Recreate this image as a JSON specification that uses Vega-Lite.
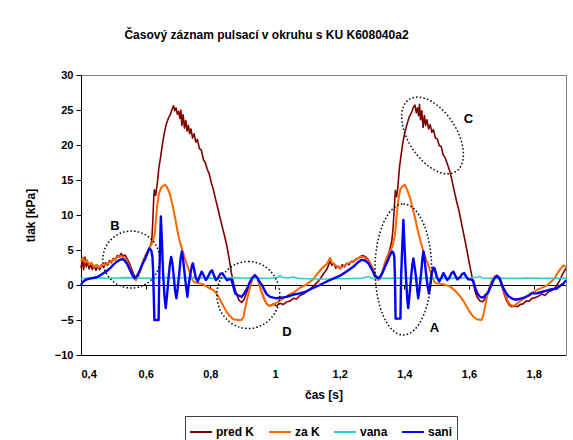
{
"$schema": "https://vega.github.io/schema/vega-lite/v6.json",
"width": 485, "height": 280,
"autosize": {"type": "none"},
"padding": {"left": 81, "top": 75, "right": 7, "bottom": 85},
"background": "white",
"config": {"view": {"stroke": null}, "font": "Liberation Sans",
 "axis": {"labelFont": "Liberation Sans", "labelFontWeight": "bold", "labelFontSize": 11, "labelColor": "black", "titleFont": "Liberation Sans", "titleFontWeight": "bold", "titleFontSize": 12, "titleColor": "black", "domainColor": "black", "tickColor": "black", "grid": false}},
"title": {"text": "Časový záznam pulsací v okruhu s KU K608040a2", "fontSize": 12, "fontWeight": "bold", "font": "Liberation Sans", "anchor": "middle", "frame": "group", "dx": -57, "offset": 27, "color": "black"},
"datasets": {
"predK": [
{"t":0.400,"v":2.4},{"t":0.404,"v":3.6},{"t":0.408,"v":2.2},{"t":0.412,"v":4.0},{"t":0.416,"v":2.6},{"t":0.420,"v":3.3},{"t":0.425,"v":2.3},{"t":0.430,"v":3.0},{"t":0.435,"v":2.2},{"t":0.440,"v":2.8},{"t":0.446,"v":2.1},{"t":0.452,"v":2.7},{"t":0.458,"v":2.2},{"t":0.464,"v":2.9},{"t":0.470,"v":2.5},{"t":0.476,"v":3.2},{"t":0.482,"v":2.8},{"t":0.488,"v":3.5},{"t":0.494,"v":3.2},{"t":0.500,"v":3.8},{"t":0.506,"v":3.6},{"t":0.512,"v":4.2},{"t":0.518,"v":4.0},{"t":0.524,"v":4.5},{"t":0.530,"v":4.1},{"t":0.536,"v":4.3},{"t":0.542,"v":3.8},{"t":0.548,"v":3.3},{"t":0.555,"v":2.5},{"t":0.562,"v":1.6},{"t":0.570,"v":1.0},{"t":0.577,"v":1.3},{"t":0.584,"v":2.2},{"t":0.592,"v":3.3},{"t":0.600,"v":4.3},{"t":0.608,"v":5.0},{"t":0.614,"v":5.5},{"t":0.619,"v":6.4},{"t":0.622,"v":9.0},{"t":0.625,"v":12.5},{"t":0.627,"v":13.6},{"t":0.631,"v":12.8},{"t":0.636,"v":14.5},{"t":0.641,"v":16.8},{"t":0.646,"v":18.2},{"t":0.652,"v":20.2},{"t":0.658,"v":21.8},{"t":0.664,"v":23.0},{"t":0.670,"v":23.8},{"t":0.676,"v":24.3},{"t":0.681,"v":25.0},{"t":0.686,"v":25.6},{"t":0.690,"v":24.9},{"t":0.694,"v":25.3},{"t":0.698,"v":24.4},{"t":0.702,"v":24.8},{"t":0.706,"v":23.8},{"t":0.709,"v":25.0},{"t":0.712,"v":22.8},{"t":0.716,"v":24.3},{"t":0.720,"v":22.4},{"t":0.724,"v":23.5},{"t":0.728,"v":22.0},{"t":0.732,"v":22.8},{"t":0.736,"v":21.6},{"t":0.740,"v":22.3},{"t":0.745,"v":21.0},{"t":0.750,"v":21.6},{"t":0.755,"v":20.4},{"t":0.760,"v":20.8},{"t":0.766,"v":19.5},{"t":0.772,"v":19.3},{"t":0.778,"v":18.0},{"t":0.784,"v":17.5},{"t":0.790,"v":16.6},{"t":0.797,"v":15.8},{"t":0.803,"v":14.6},{"t":0.809,"v":13.7},{"t":0.816,"v":12.3},{"t":0.823,"v":11.0},{"t":0.830,"v":9.6},{"t":0.837,"v":8.3},{"t":0.844,"v":7.0},{"t":0.851,"v":5.6},{"t":0.858,"v":3.8},{"t":0.865,"v":1.8},{"t":0.872,"v":0.2},{"t":0.880,"v":-1.2},{"t":0.889,"v":-2.2},{"t":0.897,"v":-2.5},{"t":0.905,"v":-2.0},{"t":0.913,"v":-1.0},{"t":0.922,"v":0.3},{"t":0.930,"v":1.1},{"t":0.938,"v":1.4},{"t":0.946,"v":0.9},{"t":0.953,"v":-0.2},{"t":0.960,"v":-1.2},{"t":0.968,"v":-2.2},{"t":0.976,"v":-2.8},{"t":0.985,"v":-3.0},{"t":0.995,"v":-2.7},{"t":1.005,"v":-3.0},{"t":1.015,"v":-2.6},{"t":1.025,"v":-2.8},{"t":1.036,"v":-2.4},{"t":1.046,"v":-2.3},{"t":1.057,"v":-1.9},{"t":1.067,"v":-2.0},{"t":1.077,"v":-1.5},{"t":1.088,"v":-1.3},{"t":1.098,"v":-0.9},{"t":1.108,"v":-0.6},{"t":1.118,"v":-0.2},{"t":1.129,"v":0.3},{"t":1.140,"v":0.9},{"t":1.150,"v":1.6},{"t":1.160,"v":2.2},{"t":1.165,"v":2.8},{"t":1.170,"v":3.4},{"t":1.176,"v":2.8},{"t":1.182,"v":3.1},{"t":1.188,"v":2.4},{"t":1.195,"v":2.7},{"t":1.201,"v":2.3},{"t":1.208,"v":2.9},{"t":1.215,"v":2.6},{"t":1.222,"v":3.1},{"t":1.229,"v":2.9},{"t":1.236,"v":3.4},{"t":1.242,"v":3.3},{"t":1.250,"v":3.7},{"t":1.258,"v":3.8},{"t":1.265,"v":4.1},{"t":1.273,"v":4.2},{"t":1.281,"v":4.0},{"t":1.289,"v":3.6},{"t":1.296,"v":3.0},{"t":1.303,"v":2.2},{"t":1.311,"v":1.4},{"t":1.318,"v":1.0},{"t":1.325,"v":1.2},{"t":1.332,"v":1.9},{"t":1.340,"v":3.0},{"t":1.347,"v":4.0},{"t":1.354,"v":4.9},{"t":1.361,"v":6.2},{"t":1.365,"v":8.0},{"t":1.369,"v":11.0},{"t":1.372,"v":13.5},{"t":1.376,"v":12.6},{"t":1.380,"v":14.0},{"t":1.385,"v":16.8},{"t":1.390,"v":18.6},{"t":1.396,"v":20.5},{"t":1.402,"v":21.9},{"t":1.409,"v":23.1},{"t":1.416,"v":24.1},{"t":1.423,"v":24.7},{"t":1.428,"v":25.4},{"t":1.433,"v":25.7},{"t":1.437,"v":24.6},{"t":1.441,"v":25.3},{"t":1.444,"v":24.2},{"t":1.447,"v":25.8},{"t":1.450,"v":23.6},{"t":1.454,"v":24.9},{"t":1.458,"v":22.5},{"t":1.462,"v":24.2},{"t":1.466,"v":22.8},{"t":1.470,"v":23.6},{"t":1.475,"v":22.3},{"t":1.480,"v":22.9},{"t":1.485,"v":21.8},{"t":1.490,"v":22.2},{"t":1.496,"v":21.0},{"t":1.502,"v":20.9},{"t":1.508,"v":19.9},{"t":1.514,"v":19.8},{"t":1.520,"v":18.6},{"t":1.526,"v":18.2},{"t":1.533,"v":17.3},{"t":1.541,"v":16.2},{"t":1.548,"v":14.8},{"t":1.555,"v":13.3},{"t":1.562,"v":11.9},{"t":1.569,"v":10.6},{"t":1.576,"v":9.0},{"t":1.583,"v":7.4},{"t":1.590,"v":5.8},{"t":1.597,"v":4.1},{"t":1.604,"v":2.4},{"t":1.611,"v":0.8},{"t":1.618,"v":-0.8},{"t":1.626,"v":-1.8},{"t":1.634,"v":-2.3},{"t":1.642,"v":-2.4},{"t":1.650,"v":-2.0},{"t":1.658,"v":-1.2},{"t":1.666,"v":-0.1},{"t":1.674,"v":0.8},{"t":1.681,"v":1.3},{"t":1.688,"v":1.3},{"t":1.695,"v":0.7},{"t":1.702,"v":-0.3},{"t":1.709,"v":-1.3},{"t":1.717,"v":-2.3},{"t":1.725,"v":-2.9},{"t":1.733,"v":-3.1},{"t":1.742,"v":-3.0},{"t":1.750,"v":-3.1},{"t":1.758,"v":-2.8},{"t":1.767,"v":-2.7},{"t":1.776,"v":-2.3},{"t":1.786,"v":-2.3},{"t":1.795,"v":-1.9},{"t":1.805,"v":-1.8},{"t":1.815,"v":-1.6},{"t":1.825,"v":-1.3},{"t":1.835,"v":-1.5},{"t":1.845,"v":-1.0},{"t":1.855,"v":-0.8},{"t":1.865,"v":-0.5},{"t":1.872,"v":0.0},{"t":1.880,"v":0.6},{"t":1.888,"v":1.4},{"t":1.895,"v":2.0},{"t":1.900,"v":2.4}
],
"zaK": [
{"t":0.400,"v":3.4},{"t":0.406,"v":3.9},{"t":0.412,"v":3.2},{"t":0.418,"v":3.6},{"t":0.425,"v":2.9},{"t":0.432,"v":3.2},{"t":0.440,"v":2.6},{"t":0.448,"v":2.9},{"t":0.456,"v":2.5},{"t":0.464,"v":2.8},{"t":0.472,"v":2.8},{"t":0.480,"v":3.0},{"t":0.490,"v":3.3},{"t":0.500,"v":3.6},{"t":0.510,"v":3.9},{"t":0.520,"v":4.1},{"t":0.530,"v":4.0},{"t":0.540,"v":3.6},{"t":0.548,"v":2.9},{"t":0.556,"v":1.8},{"t":0.564,"v":0.9},{"t":0.570,"v":0.7},{"t":0.577,"v":1.2},{"t":0.585,"v":2.3},{"t":0.593,"v":3.6},{"t":0.602,"v":4.4},{"t":0.611,"v":5.2},{"t":0.620,"v":6.0},{"t":0.628,"v":7.2},{"t":0.632,"v":9.5},{"t":0.636,"v":11.5},{"t":0.641,"v":13.0},{"t":0.648,"v":13.9},{"t":0.655,"v":14.2},{"t":0.660,"v":14.3},{"t":0.666,"v":14.0},{"t":0.675,"v":13.0},{"t":0.683,"v":11.4},{"t":0.691,"v":9.6},{"t":0.698,"v":7.8},{"t":0.705,"v":6.3},{"t":0.712,"v":5.2},{"t":0.720,"v":4.0},{"t":0.728,"v":2.9},{"t":0.736,"v":1.8},{"t":0.744,"v":0.8},{"t":0.750,"v":0.4},{"t":0.760,"v":0.3},{"t":0.778,"v":0.1},{"t":0.795,"v":-0.4},{"t":0.809,"v":-0.7},{"t":0.820,"v":-1.3},{"t":0.830,"v":-2.1},{"t":0.840,"v":-3.0},{"t":0.850,"v":-3.8},{"t":0.860,"v":-4.4},{"t":0.871,"v":-4.9},{"t":0.885,"v":-5.0},{"t":0.897,"v":-5.0},{"t":0.903,"v":-4.5},{"t":0.908,"v":-3.2},{"t":0.915,"v":-1.8},{"t":0.923,"v":-0.3},{"t":0.930,"v":0.8},{"t":0.938,"v":1.4},{"t":0.946,"v":0.9},{"t":0.953,"v":-0.2},{"t":0.961,"v":-1.3},{"t":0.969,"v":-2.2},{"t":0.977,"v":-2.8},{"t":0.985,"v":-3.0},{"t":0.995,"v":-2.8},{"t":1.005,"v":-2.5},{"t":1.016,"v":-2.2},{"t":1.030,"v":-1.8},{"t":1.046,"v":-1.3},{"t":1.057,"v":-1.1},{"t":1.077,"v":-0.4},{"t":1.098,"v":0.1},{"t":1.118,"v":0.8},{"t":1.129,"v":1.5},{"t":1.140,"v":2.1},{"t":1.150,"v":2.6},{"t":1.160,"v":3.0},{"t":1.166,"v":3.5},{"t":1.170,"v":3.9},{"t":1.176,"v":3.2},{"t":1.183,"v":3.0},{"t":1.192,"v":2.6},{"t":1.201,"v":2.4},{"t":1.212,"v":2.7},{"t":1.222,"v":3.0},{"t":1.232,"v":3.2},{"t":1.242,"v":3.4},{"t":1.255,"v":3.8},{"t":1.265,"v":4.0},{"t":1.275,"v":4.0},{"t":1.285,"v":3.6},{"t":1.294,"v":3.2},{"t":1.303,"v":2.3},{"t":1.311,"v":1.3},{"t":1.318,"v":0.7},{"t":1.324,"v":0.8},{"t":1.332,"v":1.8},{"t":1.340,"v":3.2},{"t":1.348,"v":4.2},{"t":1.356,"v":4.8},{"t":1.364,"v":5.6},{"t":1.371,"v":7.2},{"t":1.376,"v":9.8},{"t":1.381,"v":12.0},{"t":1.387,"v":13.6},{"t":1.394,"v":14.1},{"t":1.402,"v":14.3},{"t":1.410,"v":13.4},{"t":1.418,"v":12.4},{"t":1.426,"v":10.9},{"t":1.433,"v":9.6},{"t":1.441,"v":7.9},{"t":1.449,"v":6.4},{"t":1.457,"v":5.1},{"t":1.464,"v":4.1},{"t":1.472,"v":3.1},{"t":1.480,"v":2.0},{"t":1.487,"v":1.0},{"t":1.495,"v":0.3},{"t":1.505,"v":0.2},{"t":1.520,"v":0.1},{"t":1.541,"v":-0.2},{"t":1.557,"v":-0.8},{"t":1.572,"v":-1.6},{"t":1.583,"v":-2.3},{"t":1.593,"v":-3.1},{"t":1.603,"v":-3.9},{"t":1.613,"v":-4.5},{"t":1.625,"v":-4.9},{"t":1.639,"v":-5.0},{"t":1.645,"v":-4.2},{"t":1.650,"v":-3.0},{"t":1.656,"v":-1.6},{"t":1.662,"v":-0.5},{"t":1.669,"v":0.5},{"t":1.677,"v":1.1},{"t":1.686,"v":1.4},{"t":1.695,"v":1.0},{"t":1.703,"v":-0.1},{"t":1.711,"v":-1.2},{"t":1.719,"v":-2.2},{"t":1.727,"v":-2.8},{"t":1.737,"v":-3.0},{"t":1.748,"v":-2.7},{"t":1.758,"v":-2.3},{"t":1.768,"v":-2.0},{"t":1.780,"v":-1.6},{"t":1.790,"v":-1.2},{"t":1.800,"v":-1.0},{"t":1.815,"v":-0.6},{"t":1.830,"v":-0.3},{"t":1.840,"v":-0.1},{"t":1.855,"v":0.5},{"t":1.865,"v":1.0},{"t":1.875,"v":1.8},{"t":1.885,"v":2.4},{"t":1.892,"v":2.8},{"t":1.900,"v":2.6}
],
"vana": [
{"t":0.400,"v":0.9},{"t":0.420,"v":1.0},{"t":0.450,"v":1.05},{"t":0.480,"v":0.95},{"t":0.510,"v":1.0},{"t":0.540,"v":1.05},{"t":0.570,"v":1.0},{"t":0.600,"v":0.95},{"t":0.630,"v":1.0},{"t":0.660,"v":1.05},{"t":0.690,"v":1.0},{"t":0.720,"v":1.0},{"t":0.750,"v":1.05},{"t":0.780,"v":1.0},{"t":0.810,"v":0.95},{"t":0.840,"v":1.0},{"t":0.870,"v":1.05},{"t":0.900,"v":1.0},{"t":0.930,"v":1.0},{"t":0.960,"v":0.95},{"t":0.990,"v":1.0},{"t":1.010,"v":1.1},{"t":1.016,"v":1.35},{"t":1.022,"v":1.1},{"t":1.040,"v":1.0},{"t":1.057,"v":1.15},{"t":1.070,"v":0.95},{"t":1.100,"v":0.9},{"t":1.130,"v":0.85},{"t":1.160,"v":0.85},{"t":1.190,"v":0.9},{"t":1.220,"v":0.9},{"t":1.250,"v":0.95},{"t":1.270,"v":0.95},{"t":1.288,"v":1.2},{"t":1.300,"v":0.95},{"t":1.330,"v":0.95},{"t":1.360,"v":0.95},{"t":1.390,"v":1.0},{"t":1.420,"v":0.95},{"t":1.450,"v":0.95},{"t":1.480,"v":1.0},{"t":1.510,"v":0.95},{"t":1.540,"v":0.95},{"t":1.570,"v":1.0},{"t":1.600,"v":1.0},{"t":1.628,"v":1.1},{"t":1.634,"v":1.25},{"t":1.640,"v":1.0},{"t":1.670,"v":0.95},{"t":1.700,"v":0.95},{"t":1.730,"v":0.95},{"t":1.760,"v":0.95},{"t":1.790,"v":1.0},{"t":1.820,"v":0.95},{"t":1.850,"v":0.95},{"t":1.880,"v":0.95},{"t":1.900,"v":0.95}
],
"sani": [
{"t":0.400,"v":0.0},{"t":0.405,"v":0.4},{"t":0.410,"v":0.6},{"t":0.418,"v":0.8},{"t":0.428,"v":0.9},{"t":0.438,"v":1.0},{"t":0.449,"v":1.1},{"t":0.460,"v":1.4},{"t":0.470,"v":1.7},{"t":0.480,"v":2.0},{"t":0.490,"v":2.4},{"t":0.500,"v":2.9},{"t":0.510,"v":3.3},{"t":0.520,"v":3.6},{"t":0.527,"v":3.7},{"t":0.535,"v":3.5},{"t":0.543,"v":3.0},{"t":0.550,"v":2.3},{"t":0.557,"v":1.6},{"t":0.563,"v":1.1},{"t":0.567,"v":1.0},{"t":0.572,"v":1.2},{"t":0.578,"v":1.7},{"t":0.584,"v":2.3},{"t":0.590,"v":3.0},{"t":0.598,"v":3.7},{"t":0.605,"v":4.5},{"t":0.611,"v":5.2},{"t":0.617,"v":5.0},{"t":0.621,"v":4.0},{"t":0.623,"v":2.0},{"t":0.625,"v":-1.5},{"t":0.627,"v":-5.0},{"t":0.640,"v":-5.0},{"t":0.642,"v":1.0},{"t":0.645,"v":6.5},{"t":0.647,"v":9.8},{"t":0.650,"v":6.5},{"t":0.654,"v":1.5},{"t":0.658,"v":-1.5},{"t":0.662,"v":-3.3},{"t":0.666,"v":-1.5},{"t":0.671,"v":1.2},{"t":0.675,"v":3.0},{"t":0.679,"v":4.0},{"t":0.683,"v":3.0},{"t":0.687,"v":1.2},{"t":0.691,"v":-0.8},{"t":0.695,"v":-1.9},{"t":0.699,"v":-0.5},{"t":0.704,"v":1.7},{"t":0.708,"v":3.8},{"t":0.712,"v":4.8},{"t":0.716,"v":3.6},{"t":0.720,"v":1.8},{"t":0.725,"v":-0.2},{"t":0.729,"v":-1.7},{"t":0.733,"v":0.0},{"t":0.738,"v":1.5},{"t":0.743,"v":2.8},{"t":0.746,"v":3.1},{"t":0.750,"v":2.2},{"t":0.755,"v":1.0},{"t":0.761,"v":0.5},{"t":0.767,"v":1.2},{"t":0.773,"v":1.9},{"t":0.779,"v":1.4},{"t":0.786,"v":0.7},{"t":0.792,"v":1.1},{"t":0.799,"v":1.8},{"t":0.805,"v":2.1},{"t":0.811,"v":1.4},{"t":0.817,"v":0.7},{"t":0.824,"v":1.0},{"t":0.831,"v":1.6},{"t":0.837,"v":1.7},{"t":0.844,"v":1.2},{"t":0.851,"v":0.7},{"t":0.858,"v":0.8},{"t":0.865,"v":0.8},{"t":0.871,"v":-0.2},{"t":0.877,"v":-1.2},{"t":0.887,"v":-1.5},{"t":0.897,"v":-1.7},{"t":0.905,"v":-1.2},{"t":0.913,"v":-0.6},{"t":0.920,"v":0.2},{"t":0.929,"v":1.0},{"t":0.938,"v":1.4},{"t":0.946,"v":1.0},{"t":0.953,"v":0.4},{"t":0.960,"v":0.0},{"t":0.967,"v":-0.7},{"t":0.974,"v":-1.3},{"t":0.985,"v":-1.7},{"t":1.005,"v":-1.9},{"t":1.020,"v":-1.8},{"t":1.036,"v":-1.7},{"t":1.055,"v":-1.4},{"t":1.077,"v":-1.2},{"t":1.098,"v":-0.9},{"t":1.118,"v":-0.4},{"t":1.139,"v":0.0},{"t":1.160,"v":0.5},{"t":1.180,"v":0.9},{"t":1.200,"v":1.3},{"t":1.220,"v":1.9},{"t":1.242,"v":2.6},{"t":1.258,"v":3.3},{"t":1.268,"v":3.6},{"t":1.278,"v":3.5},{"t":1.289,"v":3.1},{"t":1.300,"v":2.2},{"t":1.309,"v":1.3},{"t":1.318,"v":1.0},{"t":1.325,"v":1.1},{"t":1.333,"v":1.8},{"t":1.341,"v":2.7},{"t":1.348,"v":3.4},{"t":1.356,"v":4.3},{"t":1.362,"v":4.8},{"t":1.366,"v":4.6},{"t":1.369,"v":4.0},{"t":1.371,"v":1.0},{"t":1.373,"v":-4.8},{"t":1.388,"v":-4.8},{"t":1.390,"v":1.2},{"t":1.394,"v":6.0},{"t":1.397,"v":9.3},{"t":1.401,"v":5.0},{"t":1.405,"v":1.2},{"t":1.409,"v":-2.0},{"t":1.412,"v":-3.3},{"t":1.416,"v":-1.5},{"t":1.421,"v":1.2},{"t":1.425,"v":3.0},{"t":1.428,"v":3.8},{"t":1.432,"v":2.5},{"t":1.436,"v":1.2},{"t":1.440,"v":-0.8},{"t":1.443,"v":-1.9},{"t":1.447,"v":-0.5},{"t":1.452,"v":1.7},{"t":1.456,"v":3.8},{"t":1.459,"v":4.8},{"t":1.463,"v":3.5},{"t":1.467,"v":1.7},{"t":1.472,"v":-0.2},{"t":1.476,"v":-1.2},{"t":1.480,"v":0.0},{"t":1.485,"v":1.7},{"t":1.490,"v":2.5},{"t":1.494,"v":2.3},{"t":1.500,"v":1.2},{"t":1.508,"v":0.5},{"t":1.514,"v":1.0},{"t":1.521,"v":1.7},{"t":1.527,"v":1.2},{"t":1.533,"v":0.7},{"t":1.540,"v":1.1},{"t":1.546,"v":1.7},{"t":1.552,"v":1.9},{"t":1.558,"v":1.3},{"t":1.564,"v":0.8},{"t":1.572,"v":1.1},{"t":1.579,"v":1.6},{"t":1.585,"v":1.7},{"t":1.591,"v":1.2},{"t":1.598,"v":0.8},{"t":1.606,"v":0.8},{"t":1.613,"v":0.6},{"t":1.619,"v":-0.4},{"t":1.626,"v":-1.2},{"t":1.634,"v":-1.7},{"t":1.644,"v":-1.8},{"t":1.652,"v":-1.4},{"t":1.660,"v":-1.0},{"t":1.670,"v":0.1},{"t":1.678,"v":0.9},{"t":1.686,"v":1.3},{"t":1.694,"v":1.0},{"t":1.700,"v":0.3},{"t":1.706,"v":-0.4},{"t":1.714,"v":-1.1},{"t":1.722,"v":-1.6},{"t":1.732,"v":-1.9},{"t":1.743,"v":-2.1},{"t":1.755,"v":-2.0},{"t":1.770,"v":-1.8},{"t":1.785,"v":-1.5},{"t":1.794,"v":-1.2},{"t":1.810,"v":-1.2},{"t":1.825,"v":-1.0},{"t":1.840,"v":-0.8},{"t":1.855,"v":-0.6},{"t":1.871,"v":-0.5},{"t":1.882,"v":-0.1},{"t":1.892,"v":0.2},{"t":1.900,"v":0.7}
],
"labels": [
{"t":0.505,"v":8.4,"label":"B"},{"t":1.037,"v":-6.7,"label":"D"},{"t":1.598,"v":23.7,"label":"C"},{"t":1.493,"v":-6.2,"label":"A"}
]
},
"layer": [
{"data": {"name": "predK"}, "mark": {"type": "line", "strokeWidth": 1.6, "strokeJoin": "round"},
 "encoding": {
  "x": {"field": "t", "type": "quantitative", "scale": {"domain": [0.4, 1.9], "nice": false, "zero": false},
        "axis": {"orient": "bottom", "values": [0.4,0.6,0.8,1,1.2,1.4,1.6,1.8], "labelExpr": "replace(format(datum.value, '~g'), '.', ',')", "ticks": false, "tickSize": 0, "labelPadding": 13, "title": "čas [s]", "titlePadding": 10, "domain": true}},
  "y": {"field": "v", "type": "quantitative", "scale": {"domain": [-10, 30], "nice": false, "zero": false},
        "axis": {"orient": "left", "values": [-10,-5,0,5,10,15,20,25,30], "ticks": true, "tickSize": 5, "labelPadding": 3, "title": "tlak [kPa]", "titlePadding": 17, "domain": true}},
  "color": {"datum": "pred K", "type": "nominal",
     "scale": {"domain": ["pred K", "za K", "vana", "sani"], "range": ["#800000", "#FF6600", "#33CCCC", "#0000FF"]},
     "legend": {"orient": "none", "legendX": 104, "legendY": 341, "direction": "horizontal", "title": null, "symbolType": "stroke", "symbolSize": 484, "symbolStrokeWidth": 2, "labelFontSize": 12, "labelFontWeight": "bold", "labelFont": "Liberation Sans", "labelColor": "black", "strokeColor": "#404040", "padding": 4, "columnPadding": 10, "labelOffset": 3, "fillColor": "white"}}
 }},
{"data": {"name": "zaK"}, "mark": {"type": "line", "strokeWidth": 2, "strokeJoin": "round"},
 "encoding": {"x": {"field": "t", "type": "quantitative", "axis": null}, "y": {"field": "v", "type": "quantitative", "axis": null}, "color": {"datum": "za K", "type": "nominal"}}},
{"data": {"name": "vana"}, "mark": {"type": "line", "strokeWidth": 1.6, "strokeJoin": "round"},
 "encoding": {"x": {"field": "t", "type": "quantitative", "axis": null}, "y": {"field": "v", "type": "quantitative", "axis": null}, "color": {"datum": "vana", "type": "nominal"}}},
{"data": {"name": "sani"}, "mark": {"type": "line", "strokeWidth": 2.4, "strokeJoin": "round"},
 "encoding": {"x": {"field": "t", "type": "quantitative",
   "axis": {"orient": "bottom", "offset": -70, "values": [0.4,0.6,0.8,1,1.2,1.4,1.6,1.8], "labels": false, "title": null, "ticks": true, "tickSize": 4, "domain": true}},
  "y": {"field": "v", "type": "quantitative",
   "axis": {"orient": "left", "offset": -485, "values": [-10,-5,0,5,10,15,20,25,30], "labels": false, "title": null, "ticks": true, "tickSize": 0.5, "tickColor": "#808080", "domain": true, "domainColor": "#808080"}},
  "color": {"datum": "sani", "type": "nominal"}}},
{"data": {"values": [{"t": 0.5556, "v": 3.64}]}, "mark": {"type": "point", "shape": "circle", "size": 3249, "filled": false, "stroke": "black", "strokeWidth": 1.5, "strokeDash": [1.5, 2.2], "opacity": 1},
 "encoding": {"x": {"field": "t", "type": "quantitative", "axis": null}, "y": {"field": "v", "type": "quantitative", "axis": null}}},
{"data": {"values": [{"t": 0.9175, "v": -1.43}]}, "mark": {"type": "point", "shape": "M0,-1C0.5192,-1,0.94,-0.5523,0.94,0C0.94,0.5523,0.5192,1,0,1C-0.5192,1,-0.94,0.5523,-0.94,0C-0.94,-0.5523,-0.5192,-1,0,-1Z", "size": 4489, "filled": false, "stroke": "black", "strokeWidth": 1.5, "strokeDash": [1.5, 2.2], "opacity": 1},
 "encoding": {"x": {"field": "t", "type": "quantitative", "axis": null}, "y": {"field": "v", "type": "quantitative", "axis": null}}},
{"data": {"values": [{"t": 1.3969, "v": 2.21}]}, "mark": {"type": "point", "shape": "M0,-1C0.2386,-1,0.432,-0.5523,0.432,0C0.432,0.5523,0.2386,1,0,1C-0.2386,1,-0.432,0.5523,-0.432,0C-0.432,-0.5523,-0.2386,-1,0,-1Z", "size": 17161, "filled": false, "stroke": "black", "strokeWidth": 1.5, "strokeDash": [1.5, 2.2], "opacity": 1},
 "encoding": {"x": {"field": "t", "type": "quantitative", "axis": null}, "y": {"field": "v", "type": "quantitative", "axis": null}}},
{"data": {"values": [{"t": 1.4872, "v": 21.36}]}, "mark": {"type": "point", "shape": "M0,-1C0.3082,-1,0.558,-0.5523,0.558,0C0.558,0.5523,0.3082,1,0,1C-0.3082,1,-0.558,0.5523,-0.558,0C-0.558,-0.5523,-0.3082,-1,0,-1Z", "size": 7396, "angle": 327, "filled": false, "stroke": "black", "strokeWidth": 1.5, "strokeDash": [1.5, 2.2], "opacity": 1},
 "encoding": {"x": {"field": "t", "type": "quantitative", "axis": null}, "y": {"field": "v", "type": "quantitative", "axis": null}}},
{"data": {"name": "labels"}, "mark": {"type": "text", "fontSize": 13, "fontWeight": "bold", "font": "Liberation Sans", "color": "black", "align": "center", "baseline": "middle"},
 "encoding": {"x": {"field": "t", "type": "quantitative",
   "axis": {"orient": "bottom", "offset": -280, "values": [0.4,0.6,0.8,1,1.2,1.4,1.6,1.8], "labels": false, "title": null, "ticks": true, "tickSize": 0.5, "tickColor": "#808080", "domain": true, "domainColor": "#808080"}},
  "y": {"field": "v", "type": "quantitative", "axis": null}, "text": {"field": "label"}}}
],
"resolve": {"axis": {"x": "independent", "y": "independent"}}
}
